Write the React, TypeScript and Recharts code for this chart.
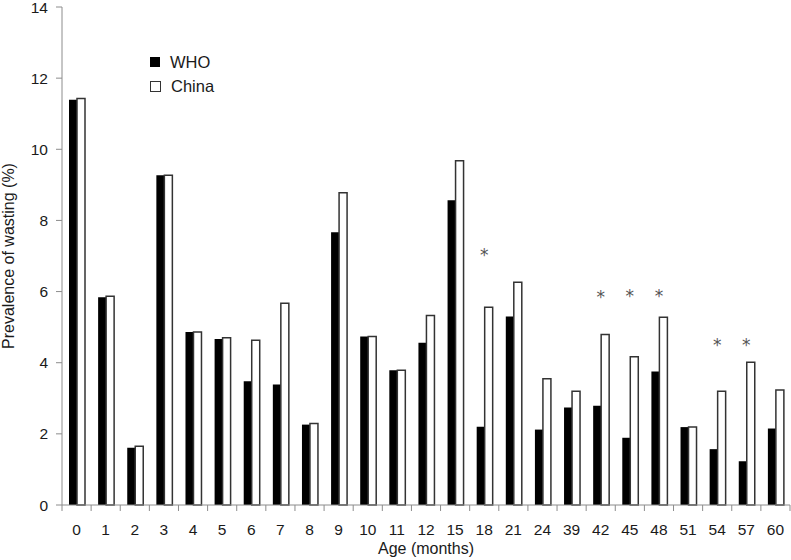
import React from 'react';
import { ComposedChart, Bar, Scatter, XAxis, YAxis, Legend } from 'recharts';

const ages = ['0', '1', '2', '3', '4', '5', '6', '7', '8', '9', '10', '11', '12', '15', '18', '21', '24', '39', '42', '45', '48', '51', '54', '57', '60'];
const whoValues = [11.39, 5.84, 1.61, 9.27, 4.86, 4.67, 3.48, 3.39, 2.26, 7.67, 4.74, 3.79, 4.56, 8.57, 2.2, 5.3, 2.12, 2.74, 2.79, 1.89, 3.75, 2.19, 1.57, 1.23, 2.15];
const chinaValues = [11.43, 5.87, 1.65, 9.27, 4.86, 4.7, 4.63, 5.67, 2.29, 8.78, 4.74, 3.79, 5.33, 9.68, 5.56, 6.26, 3.55, 3.2, 4.79, 4.17, 5.28, 2.19, 3.2, 4.01, 3.23];
const starLevels: (number | null)[] = [null, null, null, null, null, null, null, null, null, null, null, null, null, null, 7.1, null, null, null, 5.92, 5.96, 5.96, null, 4.57, 4.57, null];
const yTicks = [0, 2, 4, 6, 8, 10, 12, 14];
const seriesNames = ['WHO', 'China'];

const data = ages.map((age, i) => ({
  age,
  who: whoValues[i],
  china: chinaValues[i],
  star: starLevels[i],
}));

const FONT = '"Liberation Sans", Arial, sans-serif';
const AXIS_COLOR = '#8c8c8c';
const TEXT_COLOR = '#1a1a1a';

const XTick = (props: any) => {
  const { x, y, payload, index } = props;
  const off = payload?.offset ?? 0;
  const axisY = y - 6;
  return (
    <g>
      <line x1={x - off} x2={x - off} y1={axisY} y2={axisY + 6} stroke={AXIS_COLOR} strokeWidth={1} />
      {index === ages.length - 1 && (
        <line x1={x + off} x2={x + off} y1={axisY} y2={axisY + 6} stroke={AXIS_COLOR} strokeWidth={1} />
      )}
      <text x={x} y={axisY + 30} textAnchor="middle" fontSize={15.5} fontFamily={FONT} fill={TEXT_COLOR}>
        {payload.value}
      </text>
    </g>
  );
};

const StarShape = (props: any) => {
  const { cx, cy, payload } = props;
  if (payload == null || payload.star == null || cx == null || cy == null || isNaN(cy)) return <g />;
  return (
    <text x={cx} y={cy + 9} textAnchor="middle" fontSize={17} fontFamily='"DejaVu Sans", sans-serif' fill="#555">
      *
    </text>
  );
};

const LegendContent = () => (
  <div style={{ fontFamily: FONT, fontSize: 16.5, color: TEXT_COLOR, lineHeight: '24px' }}>
    {seriesNames.map((name, i) => (
      <div key={name} style={{ display: 'flex', alignItems: 'center', height: 24 }}>
        <span
          style={{
            display: 'inline-block',
            width: i === 0 ? 10 : 9,
            height: i === 0 ? 10 : 9,
            background: i === 0 ? '#000' : '#fff',
            border: i === 0 ? 'none' : '1px solid #333',
          }}
        />
        <span style={{ marginLeft: 10 }}>{name}</span>
      </div>
    ))}
  </div>
);

export default function App() {
  return (
    <div style={{ position: 'absolute', left: 0, top: 0, width: 791, height: 560, background: '#fff' }}>
      <ComposedChart
        width={791}
        height={560}
        data={data}
        margin={{ top: 7, right: 1, bottom: 0, left: 0 }}
        barGap={0}
        barSize={8}
      >
        <XAxis
          dataKey="age"
          type="category"
          interval={0}
          height={55}
          tickLine={false}
          tickSize={6}
          tickMargin={0}
          axisLine={{ stroke: AXIS_COLOR, strokeWidth: 1 }}
          tick={<XTick />}
          label={{
            content: (p: any) => {
              const vb = p.viewBox || {};
              return (
                <text x={vb.x + vb.width / 2} y={vb.y + 49} textAnchor="middle" fontSize={16} fontFamily={FONT} fill={TEXT_COLOR}>
                  Age (months)
                </text>
              );
            },
          }}
        />
        <YAxis
          type="number"
          domain={[0, 14]}
          ticks={yTicks}
          interval={0}
          width={62}
          tickSize={6}
          tickMargin={8}
          axisLine={{ stroke: AXIS_COLOR, strokeWidth: 1 }}
          tickLine={{ stroke: AXIS_COLOR, strokeWidth: 1 }}
          tick={{ fontSize: 15.5, fontFamily: FONT, fill: TEXT_COLOR }}
          label={{
            content: (p: any) => {
              const vb = p.viewBox || {};
              const cy = vb.y + vb.height / 2;
              return (
                <text
                  x={14}
                  y={cy}
                  transform={`rotate(-90, 14, ${cy})`}
                  textAnchor="middle"
                  fontSize={16}
                  fontFamily={FONT}
                  fill={TEXT_COLOR}
                >
                  Prevalence of wasting (%)
                </text>
              );
            },
          }}
        />
        <Legend
          content={<LegendContent />}
          layout="horizontal"
          align="center"
          verticalAlign="middle"
          wrapperStyle={{ left: 150, top: 50, width: 120 }}
        />
        <Bar dataKey="who" name="WHO" fill="#000" isAnimationActive={false} />
        <Bar dataKey="china" name="China" fill="#fff" stroke="#333" strokeWidth={1.5} isAnimationActive={false} />
        <Scatter dataKey="star" shape={<StarShape />} isAnimationActive={false} legendType="none" />
      </ComposedChart>
    </div>
  );
}
